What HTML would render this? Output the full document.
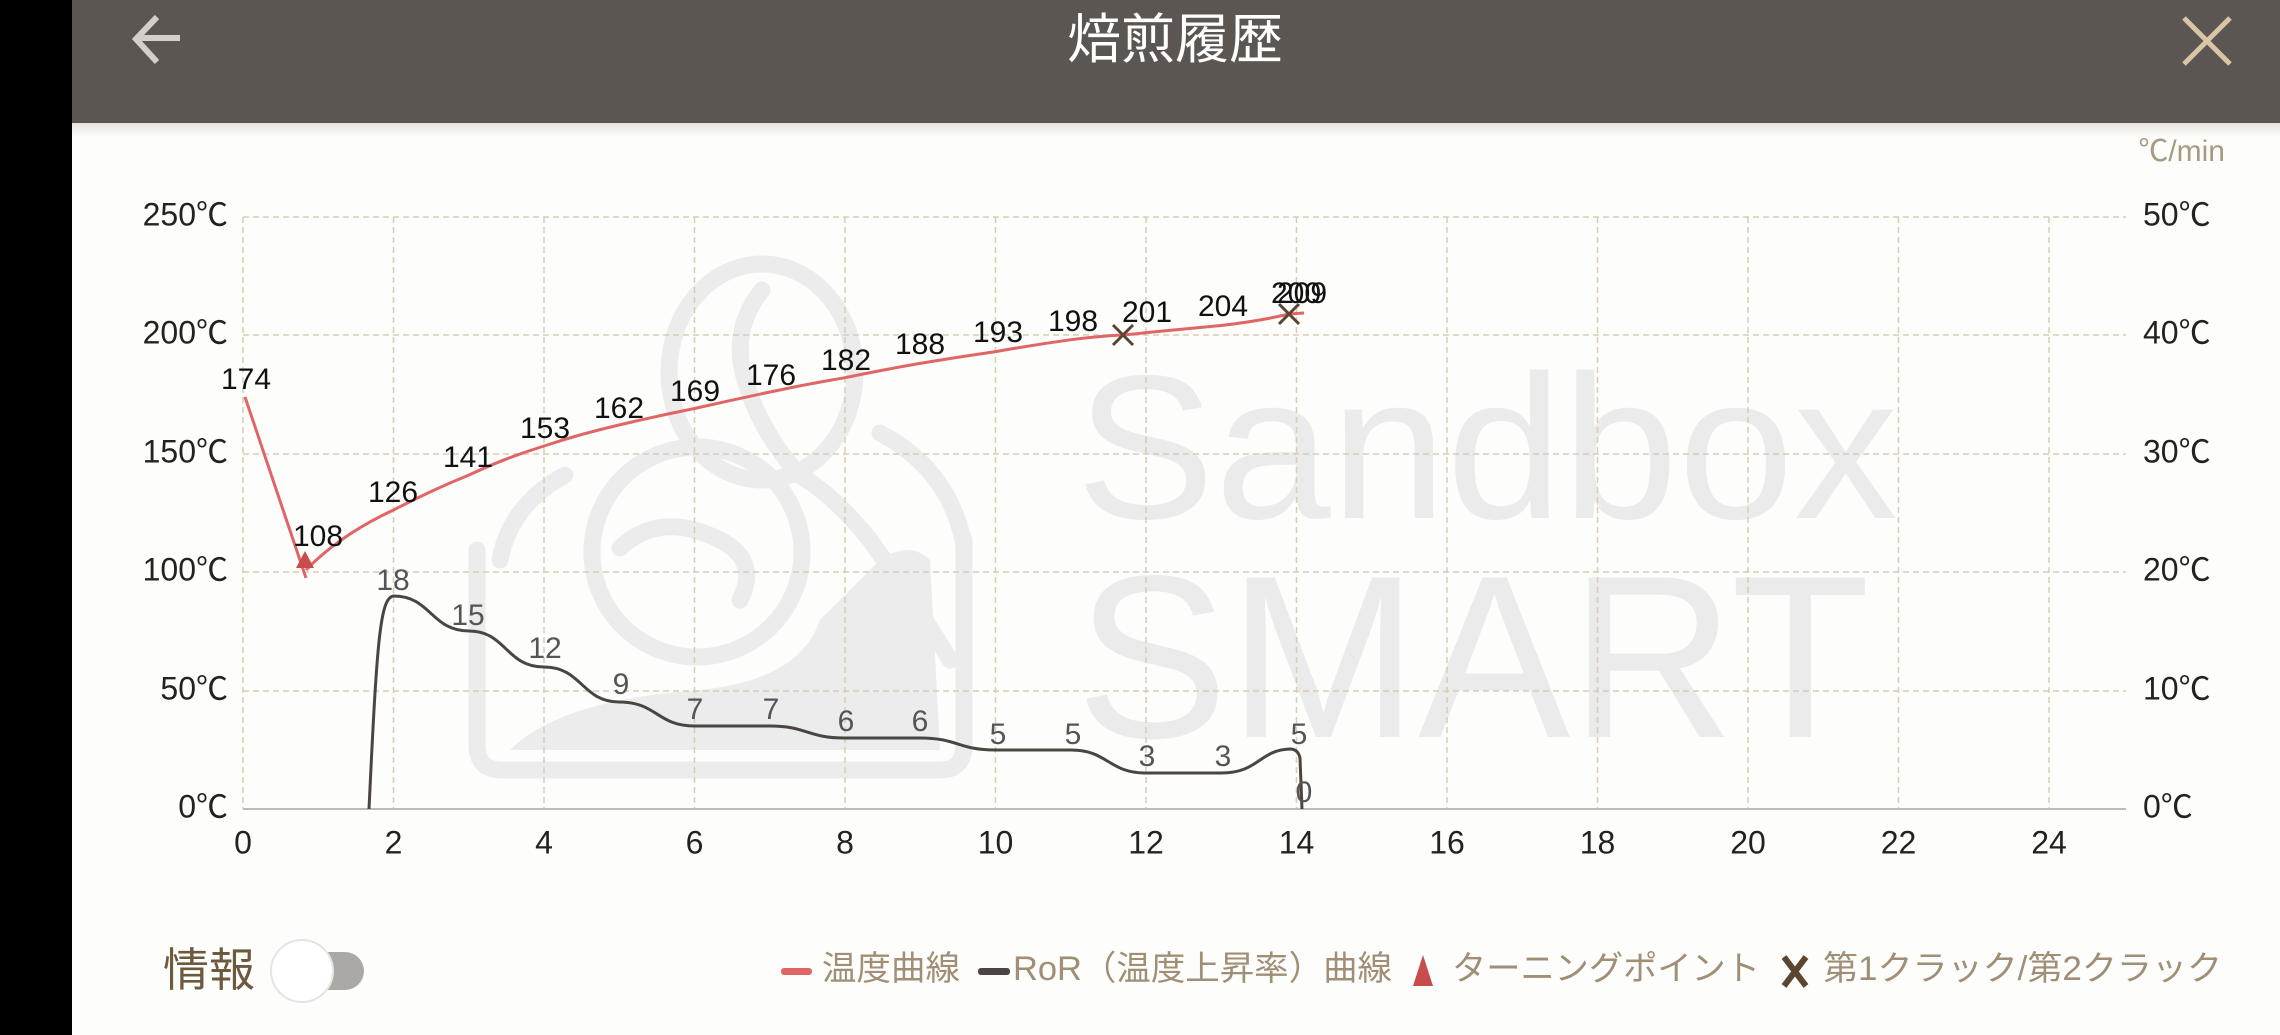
<!DOCTYPE html>
<html><head><meta charset="utf-8"><style>
html,body{margin:0;padding:0;width:2280px;height:1035px;overflow:hidden;background:#fdfdfb;}
svg{display:block}
text{font-family:"Liberation Sans","Noto Sans CJK JP",sans-serif;}
</style></head><body>
<svg width="2280" height="1035" viewBox="0 0 2280 1035" xmlns="http://www.w3.org/2000/svg">
<rect x="0" y="0" width="2280" height="1035" fill="#fdfdfb"/>
<defs><linearGradient id="sh" x1="0" y1="0" x2="0" y2="1"><stop offset="0" stop-color="#e6e4e0"/><stop offset="1" stop-color="#fdfdfb"/></linearGradient></defs>
<rect x="72" y="123" width="2208" height="14" fill="url(#sh)"/>
<rect x="72" y="0" width="2208" height="123" fill="#5b5651"/>
<rect x="0" y="0" width="72" height="1035" fill="#000"/>
<path d="M180 38 H138 M157 17 L136 39 L157 62" stroke="#d4cfca" stroke-width="6" fill="none"/>
<text x="1175" y="58" font-size="54" fill="#fff" text-anchor="middle">焙煎履歴</text>
<path d="M2184 18 L2230 64 M2230 18 L2184 64" stroke="#d9c5a6" stroke-width="5"/>
<text x="2225" y="161" font-size="30" fill="#a89a80" text-anchor="end">℃/min</text>

<!-- watermark logo -->
<g fill="none" stroke="#ececec" stroke-width="17" stroke-linecap="round">
<path d="M477 550 V745 Q477 770 502 770 H940 Q964 770 964 745 V540"/>
<ellipse cx="762" cy="372" rx="93" ry="108"/>
<path d="M762 290 Q730 330 745 380 Q760 430 795 470"/>
<circle cx="697" cy="552" r="105"/>
<path d="M565 475 Q510 505 500 560"/>
<path d="M880 433 Q950 470 964 545"/>
<path d="M620 548 Q660 510 720 540 Q760 560 740 600"/>
<path d="M790 470 Q830 490 870 540 Q920 610 950 660"/>
</g>
<path d="M510 750 Q560 700 700 690 Q800 680 820 620 L880 560 Q910 540 930 560 L940 750 Z" fill="#ececec"/>
<g fill="#ebebeb">
<text x="1076" y="518" font-size="205" textLength="822" lengthAdjust="spacingAndGlyphs">Sandbox</text>
<text x="1076" y="737" font-size="232" textLength="794" lengthAdjust="spacingAndGlyphs">SMART</text>
</g>

<!-- grid -->
<g stroke="#d8cbb8" stroke-width="1.5" stroke-dasharray="6,4">
<line x1="243" y1="217" x2="2126" y2="217"/>
<line x1="243" y1="335" x2="2126" y2="335"/>
<line x1="243" y1="454" x2="2126" y2="454"/>
<line x1="243" y1="572" x2="2126" y2="572"/>
<line x1="243" y1="691" x2="2126" y2="691"/>
<line x1="243" y1="217" x2="243" y2="809"/>
<line x1="393.5" y1="217" x2="393.5" y2="809"/>
<line x1="544" y1="217" x2="544" y2="809"/>
<line x1="694.5" y1="217" x2="694.5" y2="809"/>
<line x1="845" y1="217" x2="845" y2="809"/>
<line x1="995.5" y1="217" x2="995.5" y2="809"/>
<line x1="1146" y1="217" x2="1146" y2="809"/>
<line x1="1296.5" y1="217" x2="1296.5" y2="809"/>
<line x1="1447" y1="217" x2="1447" y2="809"/>
<line x1="1597.5" y1="217" x2="1597.5" y2="809"/>
<line x1="1748" y1="217" x2="1748" y2="809"/>
<line x1="1898.5" y1="217" x2="1898.5" y2="809"/>
<line x1="2049" y1="217" x2="2049" y2="809"/>
</g>
<line x1="243" y1="809" x2="2126" y2="809" stroke="#bbb" stroke-width="2"/>

<g font-size="32" fill="#222" text-anchor="end" dominant-baseline="middle">
<text x="228" y="217">250℃</text><text x="228" y="335">200℃</text><text x="228" y="454">150℃</text>
<text x="228" y="572">100℃</text><text x="228" y="691">50℃</text><text x="228" y="809">0℃</text>
</g>
<g font-size="32" fill="#222" dominant-baseline="middle">
<text x="2143" y="217">50℃</text><text x="2143" y="335">40℃</text><text x="2143" y="454">30℃</text>
<text x="2143" y="572">20℃</text><text x="2143" y="691">10℃</text><text x="2143" y="809">0℃</text>
</g>
<g font-size="32" fill="#222" text-anchor="middle" dominant-baseline="middle">
<text x="243" y="845">0</text><text x="393.5" y="845">2</text><text x="544" y="845">4</text><text x="694.5" y="845">6</text>
<text x="845" y="845">8</text><text x="995.5" y="845">10</text><text x="1146" y="845">12</text><text x="1296.5" y="845">14</text>
<text x="1447" y="845">16</text><text x="1597.5" y="845">18</text><text x="1748" y="845">20</text><text x="1898.5" y="845">22</text><text x="2049" y="845">24</text>
</g>

<path d="M245 397 L306 578 M306 570 Q340 535 393.5 510 Q432 490 469 475 Q505 458 544 446 Q580 434 619 425 Q657 416 694.5 408.5 Q732 400 770 392 Q807 384 845 377.7 Q882 370 920 363.4 Q958 357 995.5 351.6 Q1033 345 1071 339.7 Q1100 336 1123 335 Q1135 334 1146 332.6 Q1185 329 1221 325.5 Q1260 321 1289 314 L1304 313" fill="none" stroke="#e06666" stroke-width="3"/>
<path d="M369 809 C377 640 380 598 393.5 596 C431 596 431 631 469 631 C506 631 506 667 544 667 C582 667 582 702 619 702 C657 702 657 726 694.5 726 L770 726 C807 726 807 738 845 738 L920 738 C958 738 958 750 995.5 750 L1071 750 C1108 750 1108 773 1146 773 L1221 773 C1259 773 1259 750 1290 749 Q1298 749 1300 758 L1302 809" fill="none" stroke="#4a4541" stroke-width="3"/>

<path d="M305 551 L314 568 L296 568 Z" fill="#c94c4c"/>
<path d="M1113 325 L1133 345 M1133 325 L1113 345 M1279 304 L1299 324 M1299 304 L1279 324" stroke="#5a4630" stroke-width="3"/>

<g font-size="30" fill="#111" text-anchor="middle" dominant-baseline="middle">
<text x="246" y="381">174</text><text x="318" y="538">108</text><text x="393" y="494">126</text>
<text x="468" y="459">141</text><text x="545" y="430">153</text><text x="619" y="410">162</text>
<text x="695" y="393">169</text><text x="771" y="377">176</text><text x="846" y="362">182</text>
<text x="920" y="346">188</text><text x="998" y="334">193</text><text x="1073" y="323">198</text>
<text x="1147" y="314">201</text><text x="1223" y="308">204</text>
<text x="1296" y="295">200</text><text x="1302" y="295">209</text>
</g>
<g font-size="30" fill="#555" text-anchor="middle" dominant-baseline="middle">
<text x="393" y="582">18</text><text x="468" y="617">15</text><text x="545" y="650">12</text>
<text x="621" y="686">9</text><text x="695" y="711">7</text><text x="771" y="711">7</text>
<text x="846" y="723">6</text><text x="920" y="723">6</text><text x="998" y="736">5</text>
<text x="1073" y="736">5</text><text x="1147" y="758">3</text><text x="1223" y="758">3</text>
<text x="1299" y="736">5</text><text x="1304" y="794">0</text>
</g>

<text x="163" y="986" font-size="46" fill="#6b5a3e">情報</text>
<rect x="300" y="952" width="64" height="38" rx="19" fill="#aaa9a6"/>
<circle cx="302" cy="971" r="31" fill="#fff" stroke="#e4e4e4" stroke-width="2"/>

<g font-size="34" fill="#a08f76" dominant-baseline="middle">
<rect x="781" y="968" width="31" height="7" rx="3" fill="#e06666"/>
<text x="822" y="971" textLength="138" lengthAdjust="spacingAndGlyphs">温度曲線</text>
<rect x="978" y="968" width="32" height="7" rx="3" fill="#4a4541"/>
<text x="1013" y="971" textLength="379" lengthAdjust="spacingAndGlyphs">RoR（温度上昇率）曲線</text>
<path d="M1423 955 L1433 986 L1413 986 Z" fill="#c94c4c"/>
<text x="1452" y="971" textLength="308" lengthAdjust="spacingAndGlyphs">ターニングポイント</text>
<path d="M1784 957 L1806 986 M1806 957 L1784 986" stroke="#5a4630" stroke-width="6"/>
<text x="1823" y="971" textLength="399" lengthAdjust="spacingAndGlyphs">第1クラック/第2クラック</text>
</g>
</svg>
</body></html>
